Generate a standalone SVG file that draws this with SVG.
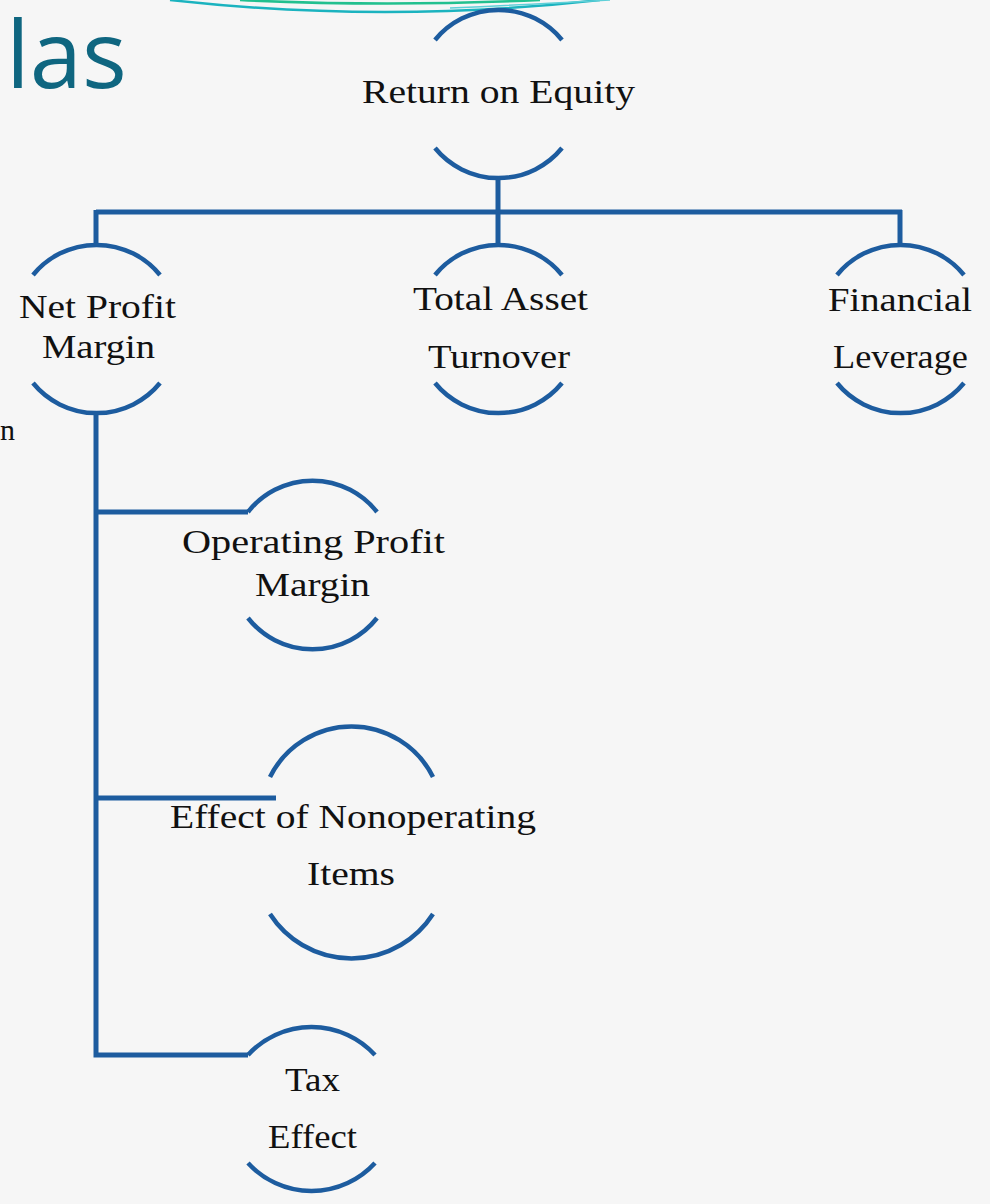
<svg xmlns="http://www.w3.org/2000/svg" width="990" height="1204" viewBox="0 0 990 1204">
  <style>
    .arc { fill: none; stroke: #1d5c9f; stroke-width: 4.5; }
    .conn { fill: none; stroke: #1d5c9f; stroke-width: 5; }
    .lbl { font-family: "Liberation Serif", "DejaVu Serif", serif; font-size: 33px; fill: #111111; text-anchor: middle; }
    .title { font-family: "Open Sans", "Liberation Sans", sans-serif; font-size: 94px; fill: #0f6680; }
  </style>
  <rect x="0" y="0" width="990" height="1204" fill="#f6f6f6"/>

  <g id="decoration">
    <path d="M170,0 Q385,24 600,0" fill="none" stroke="#1bb3bf" stroke-width="2.5"/>
    <path d="M240,0 Q385,7 540,0" fill="none" stroke="#22c08f" stroke-width="2.5"/>
    <path d="M450,8 Q540,4 610,0" fill="none" stroke="#5fd0d8" stroke-width="1.5"/>
    <text class="title" x="6" y="88">las</text>
    <text x="0" y="440" font-family="Liberation Serif, DejaVu Serif, serif" font-size="30" fill="#111111">n</text>
  </g>

  <g id="connectors">
    <path class="conn" d="M498,177 V212"/>
    <path class="conn" d="M96,212 H902"/>
    <path class="conn" d="M96,210 V245"/>
    <path class="conn" d="M498,212 V245"/>
    <path class="conn" d="M900,210 V245"/>
    <path class="conn" d="M96,413 V1055 H248"/>
    <path class="conn" d="M96,512 H248"/>
    <path class="conn" d="M96,798 H276"/>
  </g>

  <g id="roe">
    <path class="arc" d="M435,40 A82,82 0 0 1 562,40"/>
    <path class="arc" d="M435,148 A82,82 0 0 0 562,148"/>
    <text class="lbl" x="498.5" y="103" textLength="273" lengthAdjust="spacingAndGlyphs">Return on Equity</text>
  </g>

  <g id="net-profit-margin">
    <path class="arc" d="M33,275 A82,82 0 0 1 160,275"/>
    <path class="arc" d="M33,383 A82,82 0 0 0 160,383"/>
    <text class="lbl" x="97.5" y="318" textLength="157" lengthAdjust="spacingAndGlyphs">Net Profit</text>
    <text class="lbl" x="98.5" y="358" textLength="113" lengthAdjust="spacingAndGlyphs">Margin</text>
  </g>

  <g id="total-asset-turnover">
    <path class="arc" d="M435,275 A82,82 0 0 1 562,275"/>
    <path class="arc" d="M435,383 A82,82 0 0 0 562,383"/>
    <text class="lbl" x="500.5" y="310" textLength="175" lengthAdjust="spacingAndGlyphs">Total Asset</text>
    <text class="lbl" x="499" y="368" textLength="142" lengthAdjust="spacingAndGlyphs">Turnover</text>
  </g>

  <g id="financial-leverage">
    <path class="arc" d="M837,275 A82,82 0 0 1 964,275"/>
    <path class="arc" d="M837,383 A82,82 0 0 0 964,383"/>
    <text class="lbl" x="900" y="311" textLength="144" lengthAdjust="spacingAndGlyphs">Financial</text>
    <text class="lbl" x="900.5" y="368" textLength="135" lengthAdjust="spacingAndGlyphs">Leverage</text>
  </g>

  <g id="operating-profit-margin">
    <path class="arc" d="M248,512 A82,82 0 0 1 377,512"/>
    <path class="arc" d="M248,618 A82,82 0 0 0 377,618"/>
    <text class="lbl" x="313.5" y="553" textLength="263" lengthAdjust="spacingAndGlyphs">Operating Profit</text>
    <text class="lbl" x="312.5" y="596" textLength="115" lengthAdjust="spacingAndGlyphs">Margin</text>
  </g>

  <g id="effect-nonoperating">
    <path class="arc" d="M270,777 A91,91 0 0 1 433,777"/>
    <path class="arc" d="M270,914 A97,97 0 0 0 433,914"/>
    <text class="lbl" x="353" y="828" textLength="366" lengthAdjust="spacingAndGlyphs">Effect of Nonoperating</text>
    <text class="lbl" x="351" y="885" textLength="88" lengthAdjust="spacingAndGlyphs">Items</text>
  </g>

  <g id="tax-effect">
    <path class="arc" d="M248,1055 A86,86 0 0 1 375,1055"/>
    <path class="arc" d="M248,1163 A86,86 0 0 0 375,1163"/>
    <text class="lbl" x="312.5" y="1091" textLength="55" lengthAdjust="spacingAndGlyphs">Tax</text>
    <text class="lbl" x="312.5" y="1148" textLength="89" lengthAdjust="spacingAndGlyphs">Effect</text>
  </g>
</svg>
